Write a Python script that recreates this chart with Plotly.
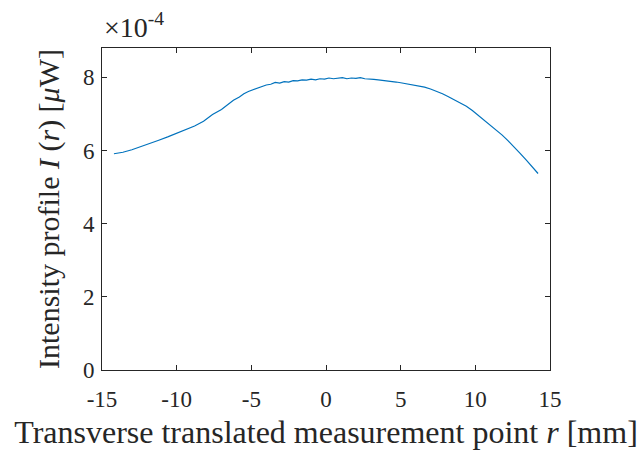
import plotly.graph_objects as go

# Transverse position r [mm]
r_mm = [-14.2, -13.6, -13.0, -12.4, -11.8, -11.2, -10.6, -10.0, -9.4, -8.8,
        -8.2, -7.6, -7.0, -6.6, -6.2, -5.8, -5.5, -5.2, -4.9, -4.6,
        -4.3, -4.0, -3.7, -3.4, -3.1, -2.8, -2.5, -2.2, -1.9, -1.6,
        -1.3, -1.0, -0.7, -0.4, -0.1, 0.2, 0.5, 0.8, 1.1, 1.4,
        1.7, 2.0, 2.3, 2.6, 2.9, 3.2, 3.5, 3.8, 4.1, 4.4,
        4.7, 5.0, 5.4, 5.8, 6.2, 6.6, 7.0, 7.4, 7.8, 8.2,
        8.6, 9.0, 9.4, 9.8, 10.2, 10.6, 11.0, 11.4, 11.8, 12.2,
        12.6, 13.0, 13.4, 13.8, 14.2]

# Measured intensity, in units of 1e-4 uW
intensity_e4 = [5.91, 5.95, 6.02, 6.10, 6.18, 6.28, 6.37, 6.47, 6.56, 6.67,
                6.80, 6.98, 7.12, 7.24, 7.37, 7.46, 7.55, 7.61, 7.66, 7.70,
                7.74, 7.79, 7.81, 7.86, 7.84, 7.88, 7.87, 7.91, 7.90, 7.93,
                7.92, 7.95, 7.93, 7.96, 7.95, 7.98, 7.96, 7.97, 7.99, 7.96,
                7.98, 7.97, 7.99, 7.96, 7.96, 7.94, 7.93, 7.91, 7.91, 7.88,
                7.87, 7.85, 7.82, 7.80, 7.77, 7.73, 7.68, 7.62, 7.55, 7.47,
                7.39, 7.31, 7.21, 7.09, 6.96, 6.83, 6.68, 6.55, 6.42, 6.26,
                6.10, 5.92, 5.74, 5.56, 5.37]

x_ticks = [-15, -10, -5, 0, 5, 10, 15]
y_ticks = [0, 2, 4, 6, 8]

FONT = "Liberation Serif"
AX = "#262626"

fig = go.Figure()
fig.add_trace(go.Scatter(x=r_mm, y=intensity_e4, mode="lines",
                         line=dict(color="#0072BD", width=1.2),
                         showlegend=False))

axis_common = dict(showline=True, linecolor=AX, linewidth=1, mirror="ticks",
                   ticks="inside", ticklen=5, tickcolor=AX, tickwidth=1,
                   showgrid=False, zeroline=False,
                   tickfont=dict(family=FONT, size=23, color=AX))

fig.update_xaxes(range=[-15, 15], tickvals=x_ticks,
                 ticktext=[str(v) for v in x_ticks],
                 ticklabelstandoff=8,
                 title=dict(text="Transverse translated measurement point <i>r</i> [mm]",
                            font=dict(family=FONT, size=32, color=AX), standoff=10),
                 **axis_common)
fig.update_yaxes(range=[0, 8.8], tickvals=y_ticks,
                 ticktext=[str(v) for v in y_ticks],
                 ticklabelstandoff=2,
                 title=dict(text="Intensity profile <i>I</i> (<i>r</i>) [<i>μ</i>W]",
                            font=dict(family=FONT, size=30, color=AX), standoff=14),
                 **axis_common)

fig.add_annotation(text="×10<sup>-4</sup>", xref="paper", yref="paper",
                   x=0, y=1, xanchor="left", yanchor="bottom", yshift=3,
                   showarrow=False, font=dict(family=FONT, size=28, color=AX))

fig.update_layout(width=640, height=457,
                  margin=dict(l=102, r=90, t=48, b=87),
                  plot_bgcolor="white", paper_bgcolor="white")

fig.write_html("out.html")
